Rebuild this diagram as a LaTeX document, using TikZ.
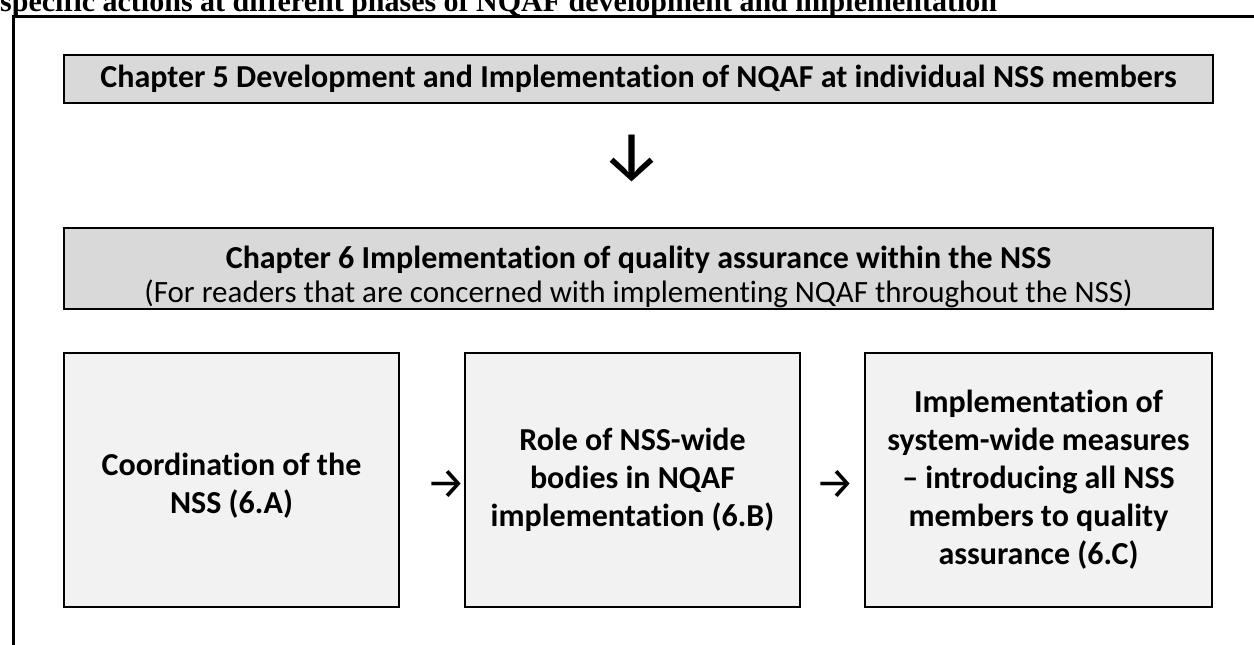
\documentclass[tikz,border=0pt]{standalone}
\usepackage{fontspec}
\setmainfont[Ligatures=NoCommon]{Carlito}
\newfontfamily\titlefont{Liberation Serif}
\newfontfamily\arrowfont{Fira Sans}
\definecolor{chapgray}{HTML}{D9D9D9}
\definecolor{boxgray}{HTML}{F2F2F2}
\begin{document}
\begin{tikzpicture}[x=1pt,y=-1pt,
  chapbox/.style={draw=black, line width=2.5pt, fill=chapgray, inner sep=0pt,
    minimum width=1149pt, align=center},
  stagebox/.style={draw=black, line width=2pt, fill=boxgray, inner sep=0pt,
    minimum height=254pt, align=center, font=\bfseries\fontsize{32}{38}\selectfont},
  arrowtext/.style={inner sep=0pt, font=\arrowfont\fontsize{44}{44}\selectfont}]
\useasboundingbox (0,0) rectangle (1254,645);
\fill[white] (0,0) rectangle (1254,645);
% cut-off heading above the frame
\node[anchor=base west, inner sep=0pt, font=\titlefont\bfseries\fontsize{30}{32}\selectfont] (heading) at (0,11)
  {specific actions at different phases of NQAF development and implementation};
% frame
\coordinate (frameBL) at (13,645);
\coordinate (frameTL) at (13,16);
\coordinate (frameTR) at (1254,16);
\draw[line width=3pt] (frameBL) -- (frameTL) -- (frameTR);
% chapter 5
\node[chapbox, minimum height=48pt, font=\bfseries\fontsize{32}{38}\selectfont] (ch5) at (638.5,79)
  {Chapter 5 Development and Implementation of NQAF at individual NSS members};
% down arrow
\node[inner sep=0pt, font=\arrowfont\fontsize{70}{70}\selectfont] (down) at (632,158) {↓};
% chapter 6
\node[chapbox, minimum height=81pt] (ch6) at (638.5,268.5) {};
\node[inner sep=0pt, align=center, font=\fontsize{31}{34}\selectfont] (ch6text) at (638.5,277)
  {\textbf{\fontsize{32}{34}\selectfont Chapter 6 Implementation of quality assurance within the NSS}\\
   (For readers that are concerned with implementing NQAF throughout the NSS)};
% stage boxes
\node[stagebox, minimum width=335pt] (a) at (231.5,480)
  {\rule{0pt}{34pt}Coordination of the\\NSS (6.A)};
\node[stagebox, minimum width=335pt] (b) at (632.5,480)
  {Role of NSS-wide\\bodies in NQAF\\implementation (6.B)};
\node[stagebox, minimum width=347pt] (c) at (1038.5,480)
  {Implementation of\\system-wide measures\\– introducing all NSS\\members to quality\\assurance (6.C)};
% arrows between stages
\node[arrowtext] (ab) at (446,484) {→};
\node[arrowtext] (bc) at (835,484) {→};
\end{tikzpicture}
\end{document}
